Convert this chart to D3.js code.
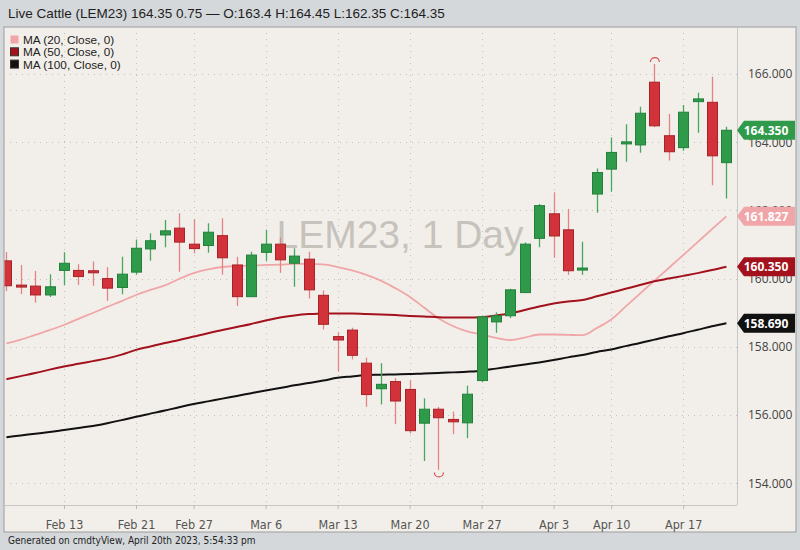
<!DOCTYPE html>
<html>
<head>
<meta charset="utf-8">
<script src="https://cdn.jsdelivr.net/npm/d3@7"></script>
<style>
  html, body { margin: 0; padding: 0; background: #d4d8db; }
  svg { display: block; }
</style>
</head>
<body>
<svg id="chart" width="800" height="550"></svg>
<script>
// ---------------- DATA ----------------
const dates = [
  "Feb 7","Feb 8","Feb 9","Feb 10","Feb 13","Feb 14","Feb 15","Feb 16","Feb 17",
  "Feb 21","Feb 22","Feb 23","Feb 24","Feb 27","Feb 28",
  "Mar 1","Mar 2","Mar 3","Mar 6","Mar 7","Mar 8","Mar 9","Mar 10",
  "Mar 13","Mar 14","Mar 15","Mar 16","Mar 17","Mar 20","Mar 21","Mar 22","Mar 23","Mar 24",
  "Mar 27","Mar 28","Mar 29","Mar 30","Mar 31",
  "Apr 3","Apr 4","Apr 5","Apr 6","Apr 10","Apr 11","Apr 12","Apr 13","Apr 14",
  "Apr 17","Apr 18","Apr 19","Apr 20"
];
const openValues = [
  160.52,159.81,159.78,159.52,160.24,160.24,160.23,160.00,159.74,
  160.19,160.87,161.28,161.48,161.01,160.97,
  161.26,160.40,159.47,160.77,161.01,160.45,160.57,159.51,
  158.30,158.49,157.52,156.77,156.98,156.75,155.76,156.17,155.87,155.77,
  157.01,158.73,158.91,159.59,161.18,
  161.90,161.43,160.25,162.48,163.21,163.95,163.92,165.76,164.19,
  163.84,165.19,165.17,163.40
];
const highValues = [
  160.78,160.40,160.22,160.13,160.77,160.42,160.50,160.33,160.64,
  161.15,161.33,161.72,161.92,161.75,161.62,
  161.77,160.64,160.79,161.43,161.20,160.89,160.79,159.65,
  158.43,158.56,157.68,157.52,157.08,157.03,156.49,156.24,156.10,156.86,
  158.91,159.01,159.70,161.06,162.19,
  162.53,162.04,161.08,163.23,164.14,164.53,165.04,166.29,164.83,
  165.09,165.45,165.92,164.45
];
const lowValues = [
  159.64,159.55,159.29,159.46,159.81,159.81,159.79,159.35,159.54,
  160.11,160.52,160.92,160.20,160.74,160.76,
  160.11,159.20,159.47,160.52,160.17,159.76,159.42,158.51,
  157.27,157.63,156.24,156.31,155.73,155.46,154.65,154.39,155.44,155.32,
  156.96,158.41,158.84,159.59,160.92,
  160.61,160.11,160.11,161.93,162.55,163.43,163.69,164.44,163.46,
  163.75,164.28,162.74,162.35
];
const closeValues = [
  159.79,159.76,159.52,159.76,160.45,160.06,160.17,159.72,160.13,
  160.89,161.11,161.40,161.07,160.88,161.36,
  160.61,159.47,160.69,161.01,160.55,160.66,159.67,158.66,
  158.20,157.75,156.60,156.90,156.41,155.54,156.17,155.92,155.80,156.61,
  158.88,158.91,159.67,161.01,162.14,
  161.25,160.23,160.31,163.11,163.70,164.01,164.85,164.48,163.72,
  164.88,165.27,163.60,164.35
];
const ma20Values = [
  158.10,158.21,158.35,158.49,158.64,158.82,158.99,159.17,159.34,
  159.52,159.67,159.80,159.99,160.16,160.27,
  160.34,160.37,160.38,160.40,160.41,160.43,160.43,160.42,
  160.34,160.24,160.11,159.94,159.72,159.47,159.15,158.84,158.61,158.45,
  158.36,158.26,158.20,158.27,158.36,
  158.36,158.35,158.34,158.55,158.80,159.18,159.56,159.94,160.31,
  160.69,161.07,161.45,161.827
];
const ma50Values = [
  157.05,157.14,157.23,157.33,157.42,157.50,157.58,157.66,157.77,
  157.91,158.01,158.11,158.20,158.30,158.40,
  158.49,158.58,158.67,158.77,158.86,158.92,158.96,158.98,
  158.98,158.98,158.96,158.95,158.93,158.90,158.89,158.87,158.86,158.86,
  158.87,158.92,158.98,159.08,159.18,
  159.27,159.33,159.37,159.48,159.59,159.70,159.81,159.92,160.00,
  160.08,160.16,160.25,160.35
];
const ma100Values = [
  155.35,155.40,155.45,155.50,155.56,155.62,155.68,155.76,155.85,
  155.95,156.04,156.13,156.23,156.32,156.40,
  156.48,156.56,156.64,156.72,156.79,156.87,156.94,157.01,
  157.09,157.13,157.17,157.18,157.19,157.20,157.22,157.23,157.25,157.27,
  157.30,157.36,157.42,157.48,157.54,
  157.61,157.69,157.76,157.85,157.92,158.02,158.11,158.21,158.31,
  158.40,158.50,158.60,158.69
];
const xTickLabels = ["Feb 13","Feb 21","Feb 27","Mar 6","Mar 13","Mar 20","Mar 27","Apr 3","Apr 10","Apr 17"];
const yTickValues = [154,156,158,160,162,164,166];
const legendLabels = ["MA (20, Close, 0)","MA (50, Close, 0)","MA (100, Close, 0)"];
const headerText = "Live Cattle (LEM23) 164.35 0.75 \u2014 O:163.4 H:164.45 L:162.35 C:164.35";
const watermarkText = "LEM23, 1 Day";
const footerText = "Generated on cmdtyView, April 20th 2023, 5:54:33 pm";

// ---------------- STYLE / LAYOUT ----------------
const W = 800, H = 550;
const panel = {left: 4, top: 27, right: 796, bottom: 532};
const plot = {left: 4, right: 737, top: 27, bottom: 505};
const colors = {
  bg: "#f2efea", header: "#d4d8db",
  up: "#2f9a4a", upEdge: "#23803a", upWick: "#45a85c",
  down: "#d2333a", downEdge: "#a82228", downWick: "#e08484",
  ma20: "#f0a6a8", ma50: "#a3121c", ma100: "#111111",
  grid: "#c4c1bc"
};
const maSeries = [
  {label: legendLabels[0], values: ma20Values, color: colors.ma20},
  {label: legendLabels[1], values: ma50Values, color: colors.ma50},
  {label: legendLabels[2], values: ma100Values, color: colors.ma100}
];

const svg = d3.select("#chart");

// scales
const x = d3.scalePoint().domain(dates).range([6.4, 726.4]);
const y = d3.scaleLinear().domain([154, 166]).range([483.2, 74]);

// header
svg.append("rect").attr("x",0).attr("y",0).attr("width",W).attr("height",H).attr("fill",colors.header);
svg.append("text").attr("x",8).attr("y",18)
  .attr("font-family","'Liberation Sans', Arial, sans-serif").attr("font-size",13.5)
  .attr("fill","#1e1e1e").text(headerText);

// panel
svg.append("rect").attr("x",panel.left).attr("y",panel.top)
  .attr("width",panel.right-panel.left).attr("height",panel.bottom-panel.top)
  .attr("fill",colors.bg).attr("stroke","#9c9c9c").attr("stroke-width",1);

// footer
svg.append("text").attr("x",8).attr("y",544)
  .attr("font-family","'Liberation Sans Narrow', 'DejaVu Sans Condensed', sans-serif").attr("font-size",10)
  .attr("fill","#222").text(footerText);

// clip
svg.append("clipPath").attr("id","plotclip").append("rect")
  .attr("x",plot.left+0.5).attr("y",plot.top+0.5)
  .attr("width",plot.right-plot.left-0.5).attr("height",plot.bottom-plot.top-0.5);

// grid
const grid = svg.append("g");
grid.selectAll("line.h").data(yTickValues).join("line")
  .attr("x1",plot.left).attr("x2",plot.right)
  .attr("y1",d=>Math.round(y(d))+0.5).attr("y2",d=>Math.round(y(d))+0.5)
  .attr("stroke",colors.grid).attr("stroke-dasharray","1,5");
grid.selectAll("line.v").data(xTickLabels).join("line")
  .attr("x1",d=>Math.round(x(d))+0.5).attr("x2",d=>Math.round(x(d))+0.5)
  .attr("y1",plot.top).attr("y2",plot.bottom)
  .attr("stroke",colors.grid).attr("stroke-dasharray","1,5");

// watermark
svg.append("text").attr("x",400).attr("y",248).attr("text-anchor","middle")
  .attr("font-family","'Liberation Sans', Arial, sans-serif").attr("font-size",39)
  .attr("fill","#c6c2bc").text(watermarkText);

const plotG = svg.append("g").attr("clip-path","url(#plotclip)");

// MA lines
const line = d3.line().x((d,i)=>x(dates[i])).y(d=>y(d)).curve(d3.curveMonotoneX);
maSeries.forEach((s,k)=>{
  plotG.append("path").datum(s.values).attr("d",line)
    .attr("fill","none").attr("stroke",s.color).attr("stroke-width",k===0?1.8:2);
});

// candles
const candles = dates.map((d,i)=>({date:d,o:openValues[i],h:highValues[i],l:lowValues[i],c:closeValues[i]}));
const bw = 10;
const cg = plotG.selectAll("g.candle").data(candles).join("g");
cg.append("line")
  .attr("x1",d=>Math.round(x(d.date))+0.5).attr("x2",d=>Math.round(x(d.date))+0.5)
  .attr("y1",d=>y(d.h)).attr("y2",d=>y(d.l))
  .attr("stroke",d=>d.c>=d.o?colors.upWick:colors.downWick).attr("stroke-width",1.3);
cg.append("rect")
  .attr("x",d=>Math.round(x(d.date))-bw/2+0.5)
  .attr("y",d=>y(Math.max(d.o,d.c)))
  .attr("width",bw)
  .attr("height",d=>Math.max(2,y(Math.min(d.o,d.c))-y(Math.max(d.o,d.c))))
  .attr("fill",d=>d.c>=d.o?colors.up:colors.down)
  .attr("stroke",d=>d.c>=d.o?colors.upEdge:colors.downEdge).attr("stroke-width",1);

// high/low markers
const iMax = d3.maxIndex(highValues), iMin = d3.minIndex(lowValues);
const pHigh = d3.path(); pHigh.arc(x(dates[iMax])+0.5, y(highValues[iMax])-2, 4.5, Math.PI, 2*Math.PI);
const pLow = d3.path(); pLow.arc(x(dates[iMin])+0.5, y(lowValues[iMin])+2.5, 4.5, 0, Math.PI);
svg.append("path").attr("d",pHigh.toString()).attr("fill","none").attr("stroke","#d84a4a").attr("stroke-width",1.2);
svg.append("path").attr("d",pLow.toString()).attr("fill","none").attr("stroke","#d84a4a").attr("stroke-width",1.2);

// x axis
const xAxis = d3.axisBottom(x).tickValues(xTickLabels).tickSize(4).tickSizeOuter(0);
const xg = svg.append("g").attr("transform",`translate(0,${plot.bottom})`).call(xAxis);
xg.select(".domain").attr("d",`M${plot.left},0.5H${plot.right}`).attr("stroke","#c8c8c8");
xg.selectAll(".tick line").attr("stroke","#b8b8b8");
xg.selectAll(".tick text").attr("y",15)
  .attr("font-family","'Liberation Sans Narrow', 'DejaVu Sans Condensed', sans-serif")
  .attr("font-size",12.5).attr("fill","#555");

// separator
svg.append("line").attr("x1",plot.right+0.5).attr("x2",plot.right+0.5)
  .attr("y1",plot.top).attr("y2",plot.bottom).attr("stroke","#c8c8c8");

// y axis (labels partly hidden behind the price tags, as in the original)
const yAxis = d3.axisRight(y).tickValues(yTickValues).tickFormat(d3.format(".3f")).tickSize(0).tickPadding(11);
const yg = svg.append("g").attr("transform",`translate(${plot.right},0)`).call(yAxis);
yg.select(".domain").remove();
yg.selectAll(".tick text").attr("font-family","'Open Sans', 'Noto Sans', sans-serif")
  .attr("font-size",12).attr("fill","#444");

// legend
const lg = svg.append("g");
maSeries.forEach((s,i)=>{
  const cy = 40 + i*12.3;
  lg.append("rect").attr("x",10.5).attr("y",cy-4.5).attr("width",8).attr("height",8)
    .attr("fill",s.color).attr("stroke",i===0?"none":"#333").attr("stroke-width",1);
  lg.append("text").attr("x",23).attr("y",cy+4)
    .attr("font-family","'Liberation Sans', Arial, sans-serif").attr("font-size",11.8)
    .attr("fill","#222").text(s.label);
});

// price tags
const tags = [
  {v: closeValues[closeValues.length-1], color: colors.up},
  {v: ma20Values[ma20Values.length-1], color: colors.ma20},
  {v: ma50Values[ma50Values.length-1], color: colors.ma50},
  {v: ma100Values[ma100Values.length-1], color: colors.ma100}
];
const tg = svg.append("g");
tags.forEach(t=>{
  const cy = y(t.v);
  const p = d3.path();
  p.moveTo(737, cy); p.lineTo(744, cy-9.5); p.lineTo(795, cy-9.5);
  p.lineTo(795, cy+9.5); p.lineTo(744, cy+9.5); p.closePath();
  tg.append("path").attr("d",p.toString()).attr("fill",t.color);
  tg.append("text").attr("x",766).attr("y",cy+4.5).attr("text-anchor","middle")
    .attr("font-family","'Open Sans', 'Noto Sans', sans-serif").attr("font-weight","bold")
    .attr("font-size",12).attr("fill","#fff").text(d3.format(".3f")(t.v));
});
</script>
</body>
</html>
